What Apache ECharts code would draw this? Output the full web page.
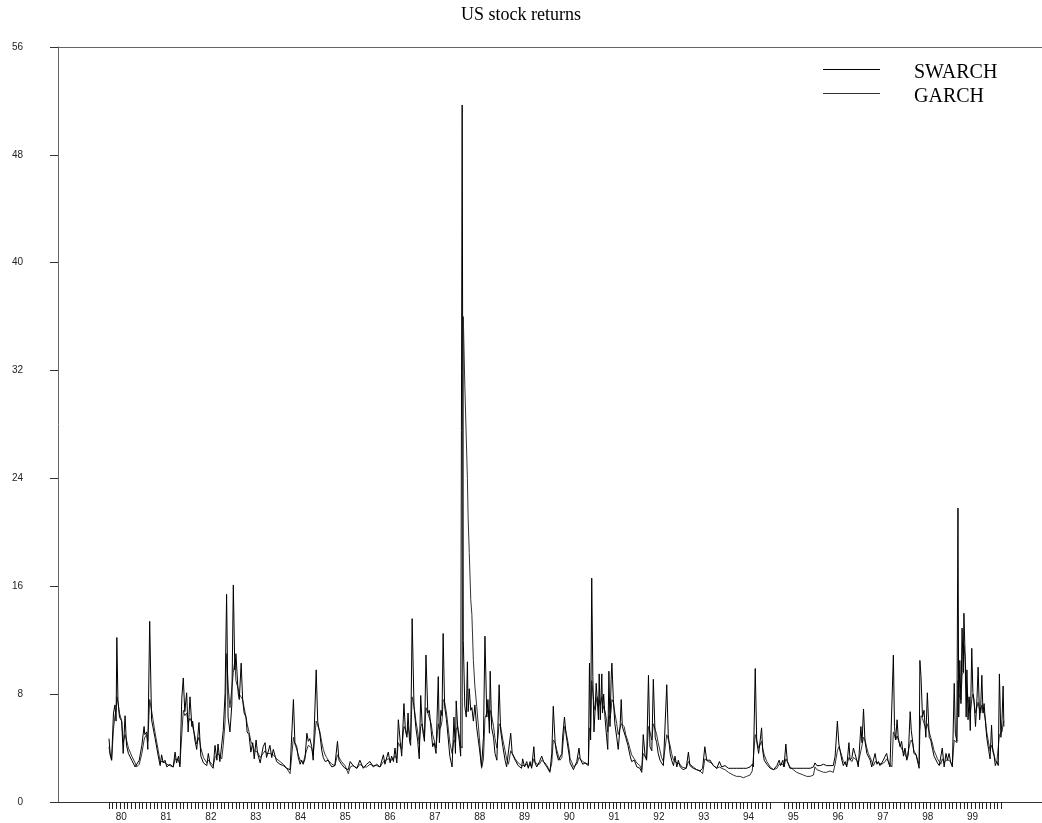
<!DOCTYPE html>
<html>
<head>
<meta charset="utf-8">
<script src="https://cdn.jsdelivr.net/npm/echarts@6/dist/echarts.min.js"></script>
<style>
html,body{margin:0;padding:0;background:#fff;}
#chart{width:1042px;height:823px;}
</style>
</head>
<body>
<div id="chart"></div>
<script>
// Time position: months since January 1980 (weekly volatility estimates)
const months = [
0.0,0.3,0.7,1.2,1.6,1.9,2.1,2.4,2.8,3.4,
3.8,4.3,4.7,5.2,6.1,7.0,7.4,8.1,8.8,9.4,
9.6,10.1,10.4,10.9,11.4,12.3,13.2,13.7,14.1,14.5,
15.0,15.5,16.3,17.2,17.7,18.1,18.6,19.0,19.5,19.9,
20.3,20.8,21.2,21.7,22.2,22.4,23.0,23.5,24.1,24.6,
25.3,26.2,26.6,27.1,27.9,28.4,28.9,29.2,29.7,30.2,
30.6,31.1,31.5,31.9,32.4,32.9,33.3,33.7,34.0,34.6,
34.9,35.4,35.8,36.2,36.7,37.0,37.5,38.0,38.5,38.9,
39.4,39.8,40.5,41.3,41.8,42.2,43.1,43.6,44.0,44.5,
44.9,45.8,46.7,47.6,48.5,48.9,49.4,49.8,50.3,50.7,
51.2,51.6,52.0,52.5,53.0,53.4,53.8,54.3,54.7,55.5,
55.9,56.5,57.0,57.4,57.9,58.3,58.7,59.2,59.7,60.5,
61.2,61.6,62.3,63.2,64.1,64.6,65.4,66.4,67.2,68.1,
69.0,69.9,70.8,71.7,72.6,73.5,73.9,74.8,75.3,75.7,
76.2,76.6,77.1,77.5,78.0,78.4,79.0,79.4,79.8,80.1,
80.5,80.8,81.2,81.7,82.2,82.7,83.1,83.5,83.9,84.2,
84.5,84.9,85.4,85.8,86.3,86.7,87.1,87.6,88.2,88.5,
88.9,89.2,89.5,89.9,90.4,90.9,91.3,91.9,92.4,92.8,
93.0,93.4,93.8,94.2,94.6,94.9,95.3,95.7,96.0,96.2,
96.5,96.9,97.2,97.6,98.0,98.5,99.2,99.8,100.3,100.7,
101.2,101.5,101.9,102.1,102.5,103.0,103.4,103.9,104.5,104.9,
105.5,106.1,106.5,107.0,107.6,108.0,108.8,109.6,110.5,110.8,
111.3,111.9,112.3,112.8,113.2,113.8,114.1,114.6,115.3,115.9,
116.4,116.8,117.3,117.7,118.1,118.6,119.0,119.5,119.9,120.4,
120.8,121.3,121.5,122.0,122.4,122.9,123.3,123.5,123.9,124.4,
124.8,125.3,125.9,126.2,126.9,127.5,128.4,128.7,129.0,129.3,
129.6,129.9,130.2,130.5,130.8,131.1,131.3,131.6,132.0,132.2,
132.5,132.9,133.3,133.6,133.9,134.2,134.5,134.7,135.1,135.5,
136.0,136.4,136.9,137.2,137.5,138.0,138.4,139.0,139.6,140.0,
140.7,141.4,142.2,142.7,143.1,143.6,144.0,144.5,144.9,145.4,
145.8,146.3,146.7,147.1,147.6,148.0,148.5,149.4,149.8,150.3,
150.7,151.2,151.6,152.1,152.5,153.0,153.4,153.8,154.6,155.2,
155.6,156.5,157.4,158.3,159.0,159.6,160.1,160.5,161.0,161.4,
161.9,162.8,163.5,164.1,165.0,165.9,166.3,167.2,168.1,169.0,
169.9,170.8,171.7,172.3,172.6,173.1,173.5,174.0,174.4,174.8,
175.1,175.5,176.2,177.1,178.0,178.9,179.5,179.9,180.5,180.8,
181.3,181.7,182.4,183.3,184.2,185.1,186.0,186.9,187.8,188.7,
189.1,189.6,190.5,191.4,192.2,193.1,194.0,194.5,195.1,195.5,
195.8,196.3,196.7,197.2,197.6,198.2,198.5,199.0,199.4,199.8,
200.3,200.7,201.4,201.7,202.1,202.5,203.0,203.4,203.9,204.3,
204.8,205.2,205.7,206.1,206.5,207.0,207.4,207.9,208.3,208.8,
209.2,209.7,210.1,210.4,210.7,211.1,211.4,211.9,212.3,212.8,
213.2,213.7,214.1,214.6,214.9,215.3,215.6,216.2,216.5,217.0,
217.2,217.5,217.9,218.3,218.8,219.2,219.7,220.1,220.6,221.0,
221.5,221.9,222.4,222.8,223.2,223.7,224.2,224.6,225.0,225.5,
225.9,226.4,226.7,227.1,227.4,227.6,227.9,228.2,228.5,228.8,
229.0,229.3,229.6,229.8,230.1,230.4,230.7,231.1,231.4,231.7,
232.1,232.5,232.8,233.2,233.5,233.8,234.1,234.4,234.8,235.1,
235.6,236.0,236.4,236.7,237.1,237.4,237.8,238.2,238.5,238.9,
239.2,239.5,239.7
];

const swarch = [
4.7,3.6,3.1,6.6,7.2,6.0,12.2,7.5,6.3,6.0,
3.6,6.4,4.2,3.6,3.1,2.6,2.5,3.1,4.2,5.6,
5.0,5.2,3.9,13.4,6.1,4.8,3.4,2.7,3.5,2.9,
3.1,2.6,2.8,2.6,3.7,2.9,3.4,2.6,7.7,9.2,
6.7,8.1,5.2,7.8,5.6,6.0,4.6,3.9,5.9,3.4,
2.9,2.7,3.6,2.8,2.5,4.2,3.1,4.3,3.0,3.1,
5.3,8.1,15.4,6.3,5.2,7.2,16.1,9.8,11.0,8.1,
7.6,10.3,7.6,6.6,6.3,5.2,5.0,3.7,4.4,3.2,
4.6,3.6,2.9,4.1,4.4,3.3,4.2,3.3,3.9,3.4,
3.0,2.8,2.7,2.5,2.4,2.3,7.6,4.4,4.1,3.3,
2.8,3.1,2.8,3.2,5.1,4.5,4.7,4.1,3.1,9.8,
6.0,5.0,3.8,3.3,3.0,2.9,3.1,2.8,2.6,2.7,
4.5,3.1,2.8,2.5,2.4,3.0,2.7,2.5,3.1,2.5,
2.8,3.0,2.6,2.8,2.6,3.5,2.8,3.7,2.9,3.4,
3.0,4.0,2.9,6.1,4.5,3.4,7.3,5.3,4.8,6.6,
4.5,4.2,13.6,7.1,5.5,4.5,3.2,7.9,5.6,5.0,
4.5,10.9,6.6,6.8,5.3,4.1,4.4,3.6,9.3,4.4,
6.8,6.4,12.5,7.1,6.1,4.6,3.4,2.6,6.3,3.6,
7.5,5.5,4.6,3.4,51.7,12.0,7.1,6.3,10.4,6.7,
8.4,6.8,7.0,6.0,7.2,5.5,4.0,2.6,4.8,12.3,
6.3,7.6,5.1,9.7,5.5,4.8,3.6,3.1,8.7,5.3,
4.1,3.1,2.6,2.5,5.1,3.6,3.1,2.7,2.5,3.2,
2.6,3.0,2.5,3.0,2.5,4.1,2.9,2.6,3.0,3.4,
3.0,2.8,2.6,2.5,2.2,3.6,7.1,4.4,3.6,3.1,
3.0,3.6,4.8,6.3,5.1,4.1,3.4,2.9,2.8,2.4,
2.5,3.0,4.0,3.2,2.8,2.9,2.7,10.3,4.6,16.6,
9.3,5.2,6.8,8.8,8.9,6.1,9.5,6.1,9.5,6.6,
8.0,6.1,4.8,3.9,9.7,5.6,9.1,10.3,7.6,5.8,
4.8,3.9,5.6,7.6,5.6,5.7,4.8,4.2,3.4,3.0,
3.1,2.6,2.5,2.2,5.0,3.4,3.1,9.4,4.1,3.8,
9.1,4.8,4.4,3.6,3.1,2.9,2.7,8.7,5.0,3.6,
3.1,2.7,3.4,2.6,3.1,2.6,2.5,2.4,2.5,3.7,
2.7,2.5,2.4,2.3,2.5,4.1,3.1,3.2,3.1,2.9,
2.7,2.5,3.0,2.6,2.7,2.5,2.6,2.5,2.5,2.5,
2.5,2.5,2.6,2.8,2.6,9.9,4.5,3.6,4.5,5.5,
3.8,3.1,2.8,2.5,2.4,2.7,3.1,2.7,3.1,2.6,
4.3,3.0,2.5,2.5,2.5,2.5,2.5,2.5,2.5,2.6,
2.9,2.7,2.7,2.8,2.7,2.7,2.7,3.4,6.0,4.3,
4.4,3.1,2.7,3.0,2.6,4.4,3.1,3.3,4.0,3.6,
3.1,2.6,5.6,4.4,6.9,4.5,3.6,3.5,3.1,2.6,
2.5,3.6,2.8,3.0,2.7,2.9,3.1,3.4,3.6,2.9,
2.6,2.5,10.9,5.6,4.6,6.1,4.8,4.1,4.5,3.4,
4.0,3.1,3.5,6.7,5.3,4.4,3.6,3.5,3.1,2.5,
10.5,9.3,6.3,6.8,4.8,8.1,4.8,4.6,3.9,3.4,
3.3,2.9,2.7,2.6,4.0,2.6,3.6,3.1,3.6,2.9,
2.6,8.8,5.1,4.5,21.8,6.3,10.5,7.3,12.9,9.6,
14.0,11.0,6.3,9.8,6.1,7.8,5.3,11.4,8.1,7.6,
5.6,7.7,10.0,6.1,7.1,9.4,6.6,7.3,5.8,4.8,
3.9,3.2,5.7,3.8,3.4,2.7,3.0,2.7,9.5,4.8,
6.1,8.6,5.6
];

const garch = [
4.1,3.5,3.1,5.4,6.4,6.8,7.8,7.4,6.6,6.0,
4.4,5.0,4.6,4.0,3.4,2.9,2.6,2.8,3.6,4.6,
4.8,5.0,4.5,7.6,6.8,5.2,3.8,3.0,3.0,3.0,
2.9,2.8,2.7,2.6,3.2,3.1,3.1,2.8,5.0,6.8,
6.4,6.6,5.9,6.2,5.9,5.6,4.9,4.3,4.8,4.0,
3.3,2.9,3.1,3.0,2.7,3.3,3.3,3.6,3.4,3.2,
4.2,6.0,11.0,8.6,7.0,7.0,9.6,10.5,9.0,8.4,
8.0,8.1,7.6,7.0,6.3,5.8,5.2,4.5,4.2,3.8,
3.8,3.7,3.3,3.6,3.8,3.6,3.6,3.5,3.5,3.4,
3.2,3.0,2.8,2.5,2.1,2.0,4.8,4.3,3.9,3.5,
3.1,3.0,2.9,3.0,3.9,4.2,4.3,4.0,3.5,6.0,
5.9,5.2,4.4,3.9,3.5,3.3,3.1,3.0,2.8,2.7,
3.5,3.3,3.0,2.7,2.1,2.6,2.7,2.5,2.8,2.6,
2.6,2.8,2.7,2.7,2.6,3.0,2.9,3.2,3.1,3.1,
3.0,3.4,3.2,4.4,4.4,3.9,5.6,5.4,5.0,5.6,
5.0,4.6,7.8,7.1,6.0,5.2,4.3,5.6,5.8,5.2,
4.8,7.0,6.6,6.5,5.8,5.0,4.6,4.0,5.8,5.4,
5.6,6.0,7.6,7.4,6.6,5.4,4.4,3.6,4.6,4.4,
5.4,5.6,5.0,4.2,4.0,36.0,31.0,27.0,24.0,21.0,
18.5,15.0,13.9,10.5,8.6,7.1,4.8,2.5,3.2,6.2,
6.6,6.8,6.0,6.8,6.4,5.6,4.7,4.0,5.8,5.6,
4.6,3.8,3.2,2.8,3.8,3.6,3.2,2.9,2.7,2.8,
2.7,2.8,2.6,2.8,2.6,3.2,3.0,2.8,2.8,3.1,
3.0,2.9,2.7,2.5,2.3,2.9,4.6,4.4,3.9,3.4,
3.1,3.3,4.0,5.6,5.2,4.5,3.8,3.2,3.0,2.6,
2.5,2.8,3.3,3.2,3.0,2.9,2.8,5.5,5.2,9.0,
9.0,7.2,6.8,7.4,7.8,7.0,7.6,7.2,7.8,7.2,
7.3,6.7,6.0,5.2,6.4,6.2,6.8,7.6,7.4,6.6,
5.8,5.0,5.0,5.8,5.8,5.6,5.0,4.5,3.9,3.5,
3.2,2.9,2.7,2.4,3.6,3.5,3.2,5.6,5.2,4.6,
5.8,5.4,5.0,4.4,3.8,3.3,3.0,5.0,4.9,4.2,
3.6,3.1,3.1,2.9,2.9,2.8,2.6,2.5,2.5,3.0,
2.8,2.6,2.4,2.3,2.1,3.2,3.1,3.0,3.0,2.9,
2.7,2.5,2.6,2.5,2.4,2.2,2.1,2.0,1.9,1.9,
1.8,1.9,2.0,2.3,2.2,5.0,4.6,4.0,4.0,4.5,
4.0,3.5,3.0,2.6,2.4,2.5,2.8,2.7,2.8,2.6,
3.2,3.0,2.6,2.4,2.2,2.1,2.0,1.9,1.9,2.0,
2.6,2.4,2.3,2.2,2.2,2.3,2.2,2.8,3.8,4.1,
4.0,3.4,3.0,2.9,2.7,3.3,3.2,3.0,3.3,3.4,
3.1,2.9,3.8,4.2,4.8,4.6,4.0,3.6,3.3,3.0,
2.7,3.0,2.9,2.9,2.8,2.8,2.9,3.0,3.2,3.0,
2.8,2.6,5.2,5.0,4.6,4.9,4.6,4.2,4.1,3.7,
3.6,3.3,3.2,4.4,4.6,4.3,3.8,3.5,3.2,2.8,
5.2,6.4,6.2,6.2,5.4,5.8,5.2,4.8,4.3,3.8,
3.5,3.2,3.0,2.8,3.2,2.9,3.1,3.0,3.1,3.0,
2.8,4.6,4.6,4.4,9.0,8.0,8.0,7.6,9.4,9.6,
11.6,10.8,9.0,8.6,7.6,7.4,6.6,7.6,8.0,7.4,
6.6,6.6,7.4,6.8,6.6,7.2,6.8,6.6,6.0,5.2,
4.4,3.8,4.2,4.0,3.5,3.1,2.9,2.8,5.0,5.0,
5.2,5.8,6.0
];

// Axis content
const yTicks = { min: 0, max: 56, step: 8 };
const yearLabels = ['80','81','82','83','84','85','86','87','88','89','90','91','92','93','94','95','96','97','98','99'];
const labelOffsetMonths = 3.3;      // where each year label sits inside its year
const monthTickCount = 240;         // monthly ticks, Jan 1980 .. Dec 1999
const missingTicks = [178, 179, 180];

if (months.length !== swarch.length || months.length !== garch.length) {
  console.error('length mismatch', months.length, swarch.length, garch.length);
}

const tickValues = [];
for (let i = 0; i < monthTickCount; i++) if (missingTicks.indexOf(i) < 0) tickValues.push(i);
const labelValues = yearLabels.map((_, i) => i * 12 + labelOffsetMonths);

// legend key: a 1px line sitting at the top of a 7px-high icon box
const legendLineIcon = 'path://M0,0L57,0L57,1L0,1Z M0,7L0.001,7Z';

const chart = echarts.init(document.getElementById('chart'), null, { renderer: 'canvas' });
const axisGrey = '#666';
chart.setOption({
  animation: false,
  backgroundColor: '#fff',
  title: {
    text: 'US stock returns',
    left: 'center',
    top: 1,
    textStyle: { fontFamily: 'Liberation Serif', fontSize: 18, fontWeight: 'normal', color: '#000' }
  },
  legend: {
    data: [
      { name: 'SWARCH', icon: legendLineIcon, itemStyle: { color: '#000' } },
      { name: 'GARCH', icon: legendLineIcon, itemStyle: { color: '#333' } }
    ],
    orient: 'vertical',
    left: 818,
    top: 56,
    itemWidth: 57,
    itemHeight: 7,
    itemGap: 1,
    textStyle: { fontFamily: 'Liberation Serif', fontSize: 20, lineHeight: 14, color: '#000', padding: [9, 0, 0, 29] }
  },
  grid: [
    { left: 58, right: 0, top: 47, bottom: 21, containLabel: false },
    { left: 109, width: 896, top: 47, bottom: 21, containLabel: false }
  ],
  xAxis: [
    { gridIndex: 0, type: 'value', min: 0, max: 1, position: 'bottom',
      axisLine: { show: true, lineStyle: { color: '#333', width: 1 } },
      axisTick: { show: false }, axisLabel: { show: false }, splitLine: { show: false } },
    { gridIndex: 0, type: 'value', min: 0, max: 1, position: 'top',
      axisLine: { show: true, lineStyle: { color: axisGrey, width: 1 } },
      axisTick: { show: false }, axisLabel: { show: false }, splitLine: { show: false } },
    { gridIndex: 1, type: 'value', min: 0, max: monthTickCount, position: 'bottom',
      axisLine: { show: false },
      axisTick: { show: true, length: 7, lineStyle: { color: '#222', width: 1 }, customValues: tickValues },
      axisLabel: { show: true, customValues: labelValues, margin: 10, fontFamily: 'Liberation Sans', fontSize: 10, color: '#222',
        formatter: v => yearLabels[Math.floor(v / 12)] || '' },
      splitLine: { show: false } }
  ],
  yAxis: [
    { gridIndex: 0, type: 'value', min: yTicks.min, max: yTicks.max, interval: yTicks.step,
      axisLine: { show: true, lineStyle: { color: axisGrey, width: 1 } },
      axisTick: { show: true, inside: false, length: 8, lineStyle: { color: '#333', width: 1 } },
      axisLabel: { show: true, margin: 35, fontFamily: 'Liberation Sans', fontSize: 10, color: '#222' },
      splitLine: { show: false } },
    { gridIndex: 1, type: 'value', min: yTicks.min, max: yTicks.max, show: false }
  ],
  series: [
    { name: 'GARCH', type: 'line', xAxisIndex: 2, yAxisIndex: 1, symbol: 'none', showSymbol: false,
      lineStyle: { color: '#333', width: 1 }, itemStyle: { color: '#333' },
      data: months.map((m, i) => [m, garch[i]]) },
    { name: 'SWARCH', type: 'line', xAxisIndex: 2, yAxisIndex: 1, symbol: 'none', showSymbol: false,
      lineStyle: { color: '#000', width: 1 }, itemStyle: { color: '#000' },
      data: months.map((m, i) => [m, swarch[i]]) }
  ]
});
</script>
</body>
</html>
